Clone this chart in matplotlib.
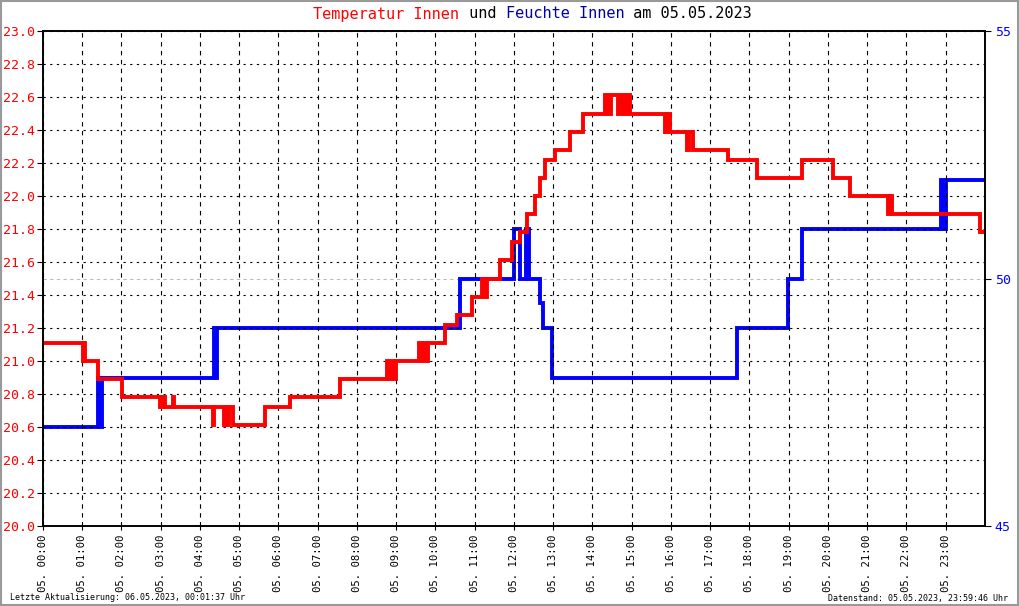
import matplotlib
matplotlib.use('Agg')
from matplotlib import pyplot as plt
from matplotlib.patches import Rectangle

plt.rcParams['font.family'] = ['DejaVu Sans Mono']

# Temperatur Innen (degC), step values, time in hours of 05.05.2023
temp_t = [0.00, 1.02, 1.05, 1.08, 1.40, 2.01, 2.98, 3.05, 3.10, 3.30, 3.33,
          4.33, 4.36, 4.60, 4.65, 4.70, 4.75, 4.84, 5.66, 6.29, 7.57,
          8.76, 8.82, 8.89, 8.94, 9.00, 9.58, 9.66, 9.73, 9.78, 9.82,
          10.24, 10.55, 10.93, 11.18, 11.25, 11.30, 11.64, 11.95, 12.15, 12.33, 12.54,
          12.66, 12.79, 13.04, 13.43, 13.76, 14.32, 14.40, 14.48, 14.65, 14.72,
          14.80, 14.88, 14.96,
          15.85, 15.90, 15.97, 16.41, 16.45, 16.55, 16.69, 17.45, 17.58,
          18.19, 19.34, 20.13, 20.56, 21.53, 21.58, 21.64, 23.87, 24.00]
temp_v = [21.11, 21.00, 21.11, 21.00, 20.89, 20.78, 20.72, 20.78, 20.72, 20.78, 20.72,
          20.61, 20.72, 20.61, 20.72, 20.61, 20.72, 20.61, 20.72, 20.78, 20.89,
          21.00, 20.89, 21.00, 20.89, 21.00, 21.11, 21.00, 21.11, 21.00, 21.11,
          21.22, 21.28, 21.39, 21.50, 21.39, 21.50, 21.61, 21.72, 21.78, 21.89, 22.00,
          22.11, 22.22, 22.28, 22.39, 22.50, 22.61, 22.50, 22.61, 22.50, 22.61,
          22.50, 22.61, 22.50,
          22.39, 22.50, 22.39, 22.28, 22.39, 22.28, 22.28, 22.22, 22.22,
          22.11, 22.22, 22.11, 22.00, 21.89, 22.00, 21.89, 21.78, 21.78]

# Feuchte Innen (%)
hum_t = [0.00, 1.40, 1.45, 1.50, 1.53, 4.35, 4.40, 4.44, 4.50, 10.62,
         11.99, 12.16, 12.30, 12.38, 12.66, 12.73, 12.97, 17.68, 18.98,
         19.34, 22.87, 22.92, 23.01, 24.00]
hum_v = [47.0, 48.0, 47.0, 48.0, 48.0, 49.0, 48.0, 49.0, 49.0, 50.0,
         51.0, 50.0, 51.0, 50.0, 49.5, 49.0, 48.0, 49.0, 50.0,
         51.0, 52.0, 51.0, 52.0, 52.0]

hours = list(range(24))
hour_labels = ['05. %02d:00' % h for h in hours]
temp_ticks = [20.0 + 0.2 * i for i in range(16)]
hum_ticks = [45, 50, 55]

W, H = 1020, 606
fig = plt.figure(figsize=(W / 100, H / 100), dpi=100)
ax = fig.add_axes([43 / W, (H - 526) / H, (985 - 43) / W, (526 - 31) / H])
ax2 = ax.twinx()
ax.set_zorder(ax2.get_zorder() + 1)
ax.patch.set_visible(False)

ax.step(temp_t, temp_v, where='post', color='#ff0000', lw=2.8, solid_joinstyle='miter')
ax2.step(hum_t, hum_v, where='post', color='#0000ff', lw=2.8, solid_joinstyle='miter')

ax.set_xlim(0, 24)
ax.set_ylim(20, 23)
ax2.set_ylim(45, 55)

ax.set_yticks(temp_ticks)
ax.set_yticklabels(['%.1f' % v for v in temp_ticks], color='#ff0000', fontsize=9.5)
ax.set_xticks(hours)
ax.set_xticklabels(hour_labels, rotation=90, fontsize=7.7, va='top')
ax2.set_yticks(hum_ticks)
ax2.set_yticklabels([str(v) for v in hum_ticks], color='#0000ff', fontsize=9.5)

ax.tick_params(axis='y', direction='out', length=4, width=0.8, pad=2)
ax.tick_params(axis='x', direction='out', length=3, width=0.8, pad=3)
ax2.tick_params(axis='y', direction='out', length=4, width=0.8, pad=3)

ax.grid(axis='y', color='black', lw=0.8, ls=(0, (2, 4)))
ax.grid(axis='x', color='black', lw=0.8, ls=(0, (4, 4)))
ax2.grid(axis='y', color='#bbbbbb', lw=0.8, ls=(0, (3, 3)))
ax2.set_axisbelow(True)
for s in ax.spines.values():
    s.set_linewidth(1.2)
for s in ax2.spines.values():
    s.set_linewidth(1.2)

# title in several colours
parts = [('Temperatur Innen', '#ff0000'), (' und ', 'black'),
         ('Feuchte Innen', '#0000aa'), (' am 05.05.2023', 'black')]
full = ''.join(p[0] for p in parts)
cw = 9.15
x0 = 533 - len(full) * cw / 2
for txt, col in parts:
    fig.text(x0 / W, 1 - 14 / H, txt, color=col, fontsize=11, va='center', ha='left')
    x0 += len(txt) * cw

fig.text(10 / W, 1 - 598 / H, 'Letzte Aktualisierung: 06.05.2023, 00:01:37 Uhr',
         fontsize=6, va='center', ha='left')
fig.text(1008 / W, 1 - 598 / H, 'Datenstand: 05.05.2023, 23:59:46 Uhr',
         fontsize=6, va='center', ha='right')

fig.patches.append(Rectangle((0.001, 0.002), 0.997, 0.996, transform=fig.transFigure,
                             fill=False, edgecolor='#999999', lw=1.5))

fig.savefig('out.png', dpi=100)
